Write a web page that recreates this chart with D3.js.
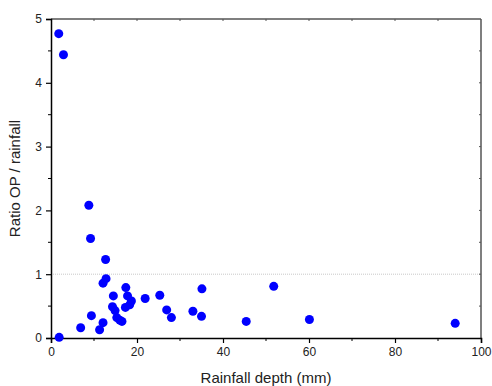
<!DOCTYPE html>
<html>
<head>
<meta charset="utf-8">
<script src="https://cdn.jsdelivr.net/npm/d3@7"></script>
<style>
  body { margin: 0; background: #fff; }
  text { font-family: "Liberation Sans", Arial, sans-serif; }
</style>
</head>
<body>
<div id="chart"></div>
<script>
// rainfall depth (mm) and ratio OP / rainfall
const rainfall = [1.8, 2.9, 8.8, 9.2, 12.7, 12.8, 12.1, 17.4, 14.5, 17.8, 18.7, 18.3, 17.3,
  14.3, 14.9, 15.3, 16.5, 16.0, 9.4, 12.1, 6.9, 11.3, 1.9, 21.9, 25.3, 26.9, 28.0,
  33.0, 35.0, 35.1, 45.4, 51.8, 60.1, 94.0];
const ratio = [4.77, 4.44, 2.08, 1.56, 1.23, 0.93, 0.86, 0.79, 0.66, 0.66, 0.58, 0.52, 0.48,
  0.49, 0.43, 0.32, 0.26, 0.28, 0.35, 0.24, 0.16, 0.13, 0.01, 0.62, 0.67, 0.44, 0.32,
  0.42, 0.34, 0.77, 0.26, 0.81, 0.29, 0.23];
const xTicks = [0, 20, 40, 60, 80, 100];
const yTicks = [0, 1, 2, 3, 4, 5];
const refLine = 1;

const width = 492, height = 386;
const margin = { top: 19, right: 11, bottom: 48, left: 51 };

const svg = d3.select('#chart').append('svg')
  .attr('width', width)
  .attr('height', height);

const x = d3.scaleLinear().domain([0, 100]).range([margin.left, width - margin.right]);
const y = d3.scaleLinear().domain([0, 5]).range([height - margin.bottom, margin.top]);

// reference line at ratio = 1
svg.append('line')
  .attr('x1', x(0)).attr('x2', x(100))
  .attr('y1', y(refLine)).attr('y2', y(refLine))
  .attr('stroke', '#c8c8c8')
  .attr('stroke-width', 1)
  .attr('stroke-dasharray', '1,1');

// top and right frame
svg.append('line')
  .attr('x1', x(0)).attr('x2', x(100)).attr('y1', y(5)).attr('y2', y(5))
  .attr('stroke', '#555').attr('stroke-width', 1.5);
svg.append('line')
  .attr('x1', x(100)).attr('x2', x(100)).attr('y1', y(0)).attr('y2', y(5))
  .attr('stroke', '#555').attr('stroke-width', 1.5);

svg.selectAll('.ttick')
  .data(d3.range(10, 100, 10))
  .enter().append('line')
  .attr('x1', (d) => x(d)).attr('x2', (d) => x(d))
  .attr('y1', y(5)).attr('y2', y(5) + 2)
  .attr('stroke', '#555');
svg.selectAll('.rtick')
  .data(d3.range(0.5, 5, 0.5))
  .enter().append('line')
  .attr('x1', x(100)).attr('x2', x(100) - 2)
  .attr('y1', (d) => y(d)).attr('y2', (d) => y(d))
  .attr('stroke', '#555');

// EJES
const xAxis = svg.append('g')
  .attr('transform', `translate(0,${y(0)})`)
  .call(d3.axisBottom(x).tickValues(xTicks).tickFormat(d3.format('d')).tickSize(5).tickPadding(4));
xAxis.append('g').selectAll('line')
  .data([10, 30, 50, 70, 90])
  .enter().append('line')
  .attr('x1', (d) => x(d)).attr('x2', (d) => x(d))
  .attr('y1', 0).attr('y2', 3)
  .attr('stroke', '#000');

const yAxis = svg.append('g')
  .attr('transform', `translate(${x(0)},0)`)
  .call(d3.axisLeft(y).tickValues(yTicks).tickFormat(d3.format('d')).tickSize(5).tickPadding(4));
yAxis.append('g').selectAll('line')
  .data([0.5, 1.5, 2.5, 3.5, 4.5])
  .enter().append('line')
  .attr('x1', 0).attr('x2', -3)
  .attr('y1', (d) => y(d)).attr('y2', (d) => y(d))
  .attr('stroke', '#000');

[xAxis, yAxis].forEach((g) => {
  g.select('.domain').attr('stroke', '#000').attr('stroke-width', 1.5);
  g.selectAll('.tick line').attr('stroke', '#000').attr('stroke-width', 1.2);
  g.selectAll('.tick text')
    .attr('fill', '#222')
    .style('font-size', '12px')
    .style('font-family', '"Liberation Sans", Arial, sans-serif');
});

svg.append('text')
  .attr('x', (x(0) + x(100)) / 2)
  .attr('y', 383)
  .attr('text-anchor', 'middle')
  .attr('fill', '#222')
  .style('font-size', '15px')
  .text('Rainfall depth (mm)');

svg.append('text')
  .attr('transform', `translate(20,${(y(0) + y(5)) / 2}) rotate(-90)`)
  .attr('text-anchor', 'middle')
  .attr('fill', '#222')
  .style('font-size', '15px')
  .text('Ratio OP / rainfall');

// PUNTOS
svg.selectAll('circle')
  .data(rainfall.map((r, i) => ({ r, v: ratio[i] })))
  .enter().append('circle')
  .attr('cx', (d) => x(d.r))
  .attr('cy', (d) => y(d.v))
  .attr('r', 4.5)
  .attr('fill', '#0000ff');
</script>
</body>
</html>
